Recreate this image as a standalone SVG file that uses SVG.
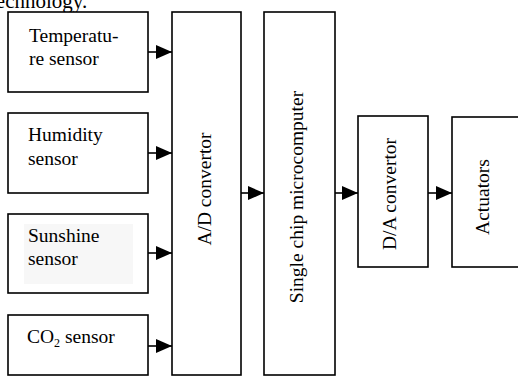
<svg xmlns="http://www.w3.org/2000/svg" width="518" height="376" viewBox="0 0 518 376">
<defs>
<style>
.box{fill:#fff;stroke:#000;stroke-width:1.6}
.t{font-family:"Liberation Serif","Times New Roman",serif;font-size:19.5px;fill:#000}
.c{stroke:#000;stroke-width:1.6;fill:none}
</style>
<marker id="ah" viewBox="0 0 16 14" refX="16" refY="7" markerWidth="16" markerHeight="14" markerUnits="userSpaceOnUse" orient="auto">
<path d="M0,0 L16,7 L0,14 Z" fill="#000"/>
</marker>
</defs>
<rect width="518" height="376" fill="#fff"/>
<text class="t" x="-10" y="8" style="font-size:21px">technology.</text>
<g id="temperature">
<rect class="box" x="8" y="12" width="140" height="80"/>
<text class="t" x="29" y="42">Temperatu-</text>
<text class="t" x="29" y="65">re sensor</text>
</g>
<g id="humidity">
<rect class="box" x="8" y="113" width="140" height="80"/>
<text class="t" x="28" y="141">Humidity</text>
<text class="t" x="28" y="165">sensor</text>
</g>
<g id="sunshine">
<rect class="box" x="8" y="214" width="140" height="79"/>
<rect x="24" y="224" width="109" height="60" fill="#f7f7f7"/>
<text class="t" x="28" y="242">Sunshine</text>
<text class="t" x="28" y="265">sensor</text>
</g>
<g id="co2">
<rect class="box" x="8" y="315" width="140" height="60"/>
<text class="t" x="27" y="343">CO<tspan font-size="12" dy="4">2</tspan><tspan dy="-4"> sensor</tspan></text>
</g>
<g id="ad">
<rect class="box" x="172" y="12" width="69" height="363"/>
<text class="t" transform="translate(211,189) rotate(-90)" text-anchor="middle">A/D convertor</text>
</g>
<g id="mcu">
<rect class="box" x="264" y="12" width="71" height="363"/>
<text class="t" transform="translate(303,197) rotate(-90)" text-anchor="middle">Single chip microcomputer</text>
</g>
<g id="da">
<rect class="box" x="358" y="116" width="70" height="151"/>
<text class="t" transform="translate(396,194) rotate(-90)" text-anchor="middle">D/A convertor</text>
</g>
<g id="actuators">
<rect class="box" x="452" y="117" width="72" height="150"/>
<text class="t" transform="translate(489,197) rotate(-90)" text-anchor="middle">Actuators</text>
</g>
<g id="connectors">
<line class="c" x1="148" y1="52" x2="172" y2="52" marker-end="url(#ah)"/>
<line class="c" x1="148" y1="153" x2="172" y2="153" marker-end="url(#ah)"/>
<line class="c" x1="148" y1="253" x2="172" y2="253" marker-end="url(#ah)"/>
<line class="c" x1="148" y1="346" x2="172" y2="346" marker-end="url(#ah)"/>
<line class="c" x1="241" y1="193" x2="264" y2="193" marker-end="url(#ah)"/>
<line class="c" x1="335" y1="193" x2="358" y2="193" marker-end="url(#ah)"/>
<line class="c" x1="428" y1="193" x2="452" y2="193" marker-end="url(#ah)"/>
</g>
</svg>
